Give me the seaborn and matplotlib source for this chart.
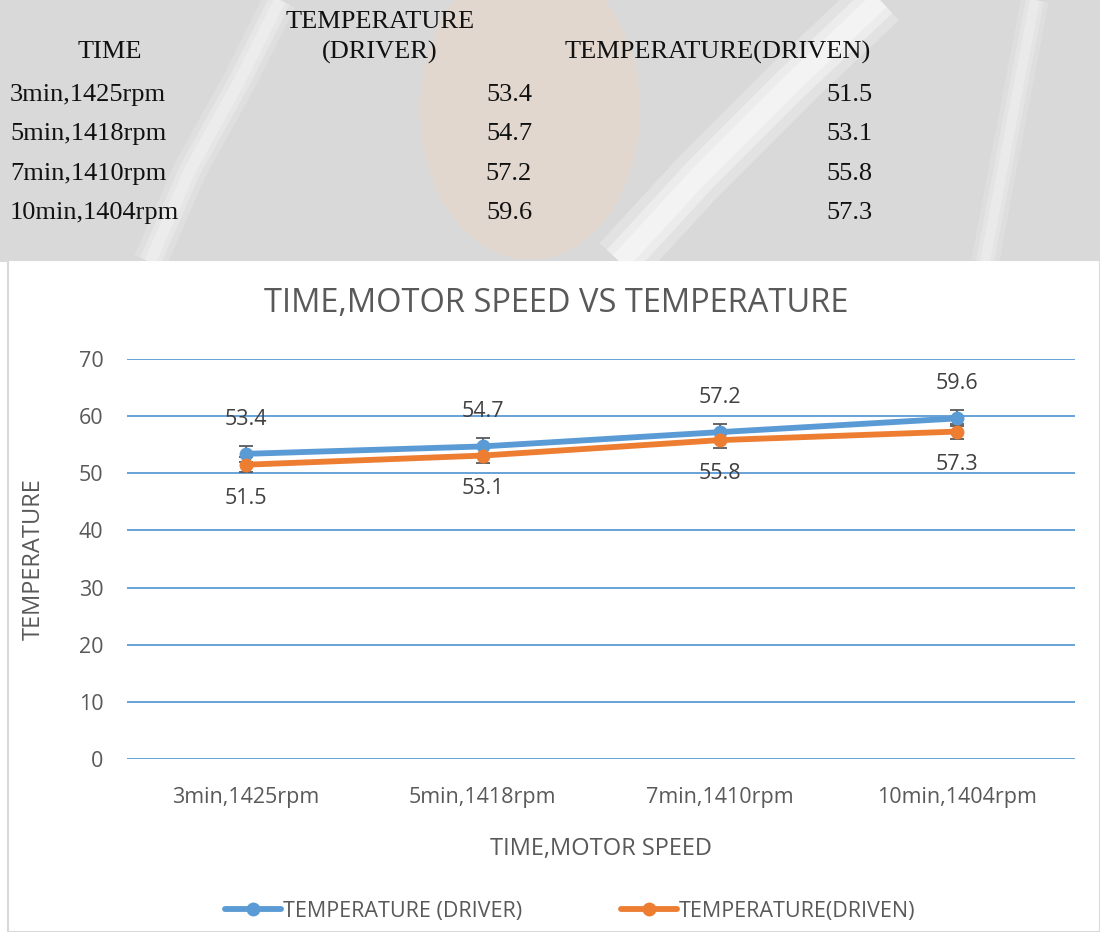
import numpy as np
import pandas as pd
import matplotlib
matplotlib.use("Agg")
import matplotlib.pyplot as plt
import matplotlib.patches as mpatches
from matplotlib.lines import Line2D
import seaborn as sns

categories = ["3min,1425rpm", "5min,1418rpm", "7min,1410rpm", "10min,1404rpm"]
driver = [53.4, 54.7, 57.2, 59.6]
driven = [51.5, 53.1, 55.8, 57.3]
driver_err = [1.4, 1.4, 1.4, 1.4]
driven_err = [1.3, 1.3, 1.3, 1.3]
series_names = ["TEMPERATURE (DRIVER)", "TEMPERATURE(DRIVEN)"]
yticks = [0, 10, 20, 30, 40, 50, 60, 70]

sns.set_theme(style="white")
plt.rcParams["font.family"] = ["Open Sans", "DejaVu Sans"]

W, H = 1100, 932
fig = plt.figure(figsize=(W / 100, H / 100), dpi=100)

# ---- background / watermark region on top
bg = fig.add_axes([0, 0, 1, 1], zorder=0)
bg.set_xlim(0, W)
bg.set_ylim(H, 0)
bg.axis("off")
bg.add_patch(mpatches.Rectangle((0, 0), W, 262, color="#d9d9d9", lw=0))
bg.add_patch(mpatches.Ellipse((530, 110), 220, 300, color="#f4d3b8", lw=0, alpha=0.3))
for lw, a in [(40, 0.25), (26, 0.35), (14, 0.4)]:
    bg.plot([620, 700, 790, 880], [262, 175, 85, 0], color="white", lw=lw, alpha=a, solid_capstyle="butt")
    bg.plot([150, 190, 240, 280], [262, 170, 80, 0], color="white", lw=lw * 0.6, alpha=a * 0.7, solid_capstyle="butt")
    bg.plot([985, 1010, 1035], [262, 130, 0], color="white", lw=lw * 0.5, alpha=a * 0.6, solid_capstyle="butt")
# chart area
bg.add_patch(mpatches.Rectangle((8, 260), W - 8, H - 260, facecolor="white", edgecolor="#d9d9d9", lw=1.5))

# ---- top table (serif)
tf = dict(family=["Liberation Serif", "DejaVu Serif"], fontsize=19, color="#111111")
bg.text(110, 52, "TIME", ha="center", va="center", **tf)
bg.text(380, 22, "TEMPERATURE", ha="center", va="center", **tf)
bg.text(380, 52, "(DRIVER)", ha="center", va="center", **tf)
bg.text(718, 52, "TEMPERATURE(DRIVEN)", ha="center", va="center", **tf)
rows_y = [95, 134, 174, 213]
for cat, a, b, yy in zip(categories, driver, driven, rows_y):
    bg.text(10, yy, cat, ha="left", va="center", **tf)
    bg.text(532, yy, f"{a:.1f}", ha="right", va="center", **tf)
    bg.text(873, yy, f"{b:.1f}", ha="right", va="center", **tf)

# ---- chart
left, right = 127 / W, 1075 / W
bottom = 1 - 759 / H
height = 400 / H
ax = fig.add_axes([left, bottom, right - left, height], zorder=2)
ax.patch.set_alpha(0)

df = pd.DataFrame({
    "cat": list(range(len(categories))) * 2,
    "value": driver + driven,
    "series": [series_names[0]] * 4 + [series_names[1]] * 4,
})
colors = {series_names[0]: "#5B9BD5", series_names[1]: "#ED7D31"}

x = np.arange(len(categories))
ax.errorbar(x, driver, yerr=driver_err, fmt="none", ecolor="#595959", elinewidth=1.3, capsize=5, capthick=1.3, zorder=2)
ax.errorbar(x, driven, yerr=driven_err, fmt="none", ecolor="#595959", elinewidth=1.3, capsize=5, capthick=1.3, zorder=2)

sns.lineplot(data=df, x="cat", y="value", hue="series", palette=colors, marker="o",
             markersize=10, markeredgewidth=0, linewidth=4.2, sort=False, legend=False, ax=ax, zorder=3)

for xi, v in zip(x, driver):
    ax.annotate(f"{v:.1f}", (xi, v), xytext=(0, 25), textcoords="offset points", ha="center", va="center",
                fontsize=15.5, color="#404040")
for xi, v in zip(x, driven):
    ax.annotate(f"{v:.1f}", (xi, v), xytext=(0, -24), textcoords="offset points", ha="center", va="center",
                fontsize=15.5, color="#404040")

ax.set_xlim(-0.5, 3.5)
ax.set_ylim(0, 70)
ax.set_yticks(yticks)
ax.set_xticks(x)
ax.set_xticklabels(categories)
ax.yaxis.grid(True, color="#5B9BD5", lw=1.3)
ax.xaxis.grid(False)
ax.set_axisbelow(True)
for s in ax.spines.values():
    s.set_visible(False)
ax.tick_params(axis="both", length=0, labelsize=15.5, labelcolor="#595959")
ax.tick_params(axis="y", pad=17)
ax.tick_params(axis="x", pad=20)
ax.set_xlabel("TIME,MOTOR SPEED", fontsize=17, color="#595959", labelpad=21)
ax.set_ylabel("TEMPERATURE", fontsize=17, color="#595959", labelpad=24)
fig.text(556 / W, 1 - 303 / H, "TIME,MOTOR SPEED VS TEMPERATURE", ha="center", va="center",
         fontsize=23.5, color="#595959")

handles = [Line2D([0], [0], color=colors[n], lw=4.2, marker="o", markersize=10, markeredgewidth=0)
           for n in series_names]
fig.legend(handles, series_names, loc="center", bbox_to_anchor=(570 / W, 1 - 911 / H), ncol=2, frameon=False,
           fontsize=15.5, labelcolor="#595959", handlelength=2.6, handletextpad=0.1, columnspacing=4.6)

fig.savefig("out.png", dpi=100)
